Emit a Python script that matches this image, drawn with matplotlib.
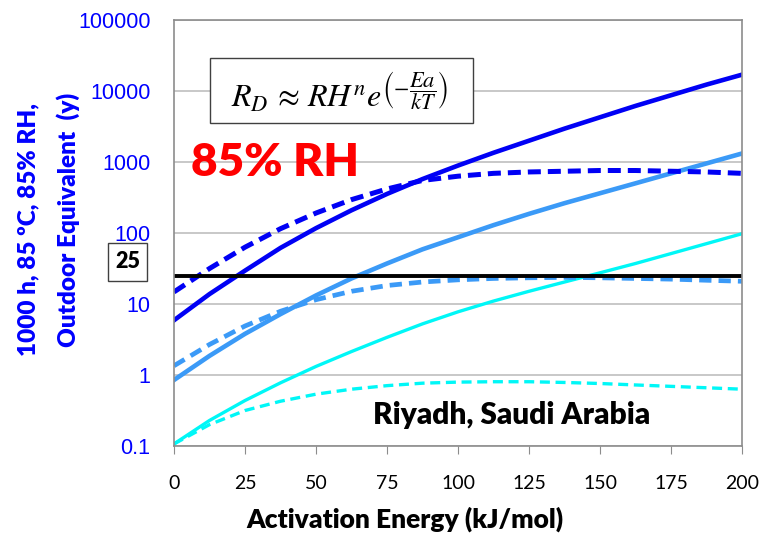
import matplotlib

matplotlib.use("Agg")
import matplotlib.pyplot as plt
from matplotlib.patches import Rectangle
from matplotlib.ticker import FixedLocator, NullLocator


# Activation energy (kJ/mol)
ea = [0, 12.5, 25, 37.5, 50, 62.5, 75, 87.5, 100,
      112.5, 125, 137.5, 150, 162.5, 175, 187.5, 200]

# Outdoor equivalent years
dark_solid = [5.9, 13.8, 29.5, 61.7, 117, 209, 355, 575, 891,
              1349, 1995, 2951, 4266, 6166, 8710, 12303, 16982]
dark_dashed = [14.8, 31.6, 63.1, 115, 191, 295, 417, 550, 631,
               692, 724, 741, 759, 759, 741, 724, 692]
mid_solid = [0.85, 1.86, 3.8, 7.2, 13.2, 22.9, 37.2, 58.9, 87.1,
             129, 186, 263, 363, 501, 692, 955, 1318]
mid_dashed = [1.35, 2.69, 4.9, 7.9, 11.5, 15.1, 18.2, 20.4, 21.9,
              22.9, 23.4, 23.7, 23.4, 22.9, 22.4, 21.6, 20.9]
cyan_solid = [0.107, 0.229, 0.437, 0.776, 1.32, 2.14, 3.39, 5.25, 7.76,
              11.0, 15.1, 20.4, 27.5, 37.2, 51.3, 70.8, 97.7]
cyan_dashed = [0.107, 0.20, 0.316, 0.427, 0.537, 0.631, 0.708, 0.767, 0.794,
               0.804, 0.804, 0.785, 0.759, 0.724, 0.692, 0.661, 0.631]

target_years = 25
x_ticks = [0, 25, 50, 75, 100, 125, 150, 175, 200]
y_ticks = [0.1, 1, 10, 100, 1000, 10000, 100000]
y_tick_labels = ["0.1", "1", "10", "100", "1000", "10000", "100000"]

DARK = "#0000F5"
MID = "#3B9AF7"
CYAN = "#00F7F7"
BOLD_FONT = ["Lato", "DejaVu Sans"]
W, H = 763, 533

fig = plt.figure(figsize=(7.63, 5.33), dpi=100)
ax = fig.add_axes([174 / W, 1 - 446 / H, 568 / W, 426 / H])
ax.set_yscale("log")
ax.set_xlim(0, 200)
ax.set_ylim(0.1, 100000)

# grid lines only on the decades
ax.yaxis.set_major_locator(FixedLocator(y_ticks))
ax.yaxis.set_minor_locator(NullLocator())
ax.grid(axis="y", color="#BFBFBF", linewidth=1.2)
ax.set_axisbelow(True)

ax.plot(ea, cyan_solid, color=CYAN, lw=2.4)
ax.plot(ea, cyan_dashed, color=CYAN, lw=2.4, dashes=(3.0, 1.7))
ax.plot(ea, mid_solid, color=MID, lw=3.3)
ax.plot(ea, mid_dashed, color=MID, lw=3.4, dashes=(2.6, 1.5))
ax.plot(ea, dark_solid, color=DARK, lw=3.3)
ax.plot(ea, dark_dashed, color=DARK, lw=3.6, dashes=(2.6, 1.4))
ax.axhline(target_years, color="black", lw=2.8)

for side in ["left", "right", "top", "bottom"]:
    ax.spines[side].set_color("#8C8C8C")
    ax.spines[side].set_linewidth(1.2)

ax.set_xticks(x_ticks)
ax.set_xticklabels([str(v) for v in x_ticks], fontsize=14, family=BOLD_FONT)
ax.tick_params(axis="x", direction="out", length=6, color="#8C8C8C", pad=15)
ax.set_yticklabels(y_tick_labels, fontsize=15.5, color="#0000FF", family="Liberation Sans")
ax.tick_params(axis="y", length=0, pad=17)

ax.set_xlabel("Activation Energy (kJ/mol)", fontsize=19, fontweight="heavy",
              family=BOLD_FONT, labelpad=10, x=(405 - 174) / 568)
fig.text(28 / W, 1 - 230 / H, "1000 h, 85 \u00baC, 85% RH,", rotation=90, fontsize=17.5,
         fontweight="heavy", color="#0000FF", family=BOLD_FONT, ha="center", va="center")
fig.text(68 / W, 1 - 220 / H, "Outdoor Equivalent  (y)", rotation=90, fontsize=17.5,
         fontweight="heavy", color="#0000FF", family=BOLD_FONT, ha="center", va="center")

# boxed target value next to the axis
fig.patches.append(Rectangle((108 / W, 1 - 281 / H), 39 / W, 38 / H, transform=fig.transFigure,
                             fc="white", ec="#404040", lw=1))
fig.text(127.5 / W, 1 - 262 / H, "25", fontsize=15.5, fontweight="heavy", family=BOLD_FONT,
         ha="center", va="center")

# equation box
plt.rcParams["mathtext.fontset"] = "stix"
fig.patches.append(Rectangle((210 / W, 1 - 123 / H), 263 / W, 65 / H, transform=fig.transFigure,
                             fc="white", ec="#404040", lw=1, zorder=3))
fig.text(340 / W, 1 - 93 / H,
         r"$R_D\,\approx\,RH^n e^{\left(-\dfrac{Ea}{kT}\right)}$",
         fontsize=23, ha="center", va="center", zorder=4)

ax.text(275 / W, 1 - 162 / H, "85% RH", transform=fig.transFigure, color="#FF0000",
        fontsize=33, fontweight="heavy", family=BOLD_FONT, ha="center", va="center")
ax.text(512 / W, 1 - 415 / H, "Riyadh, Saudi Arabia", transform=fig.transFigure,
        fontsize=21.5, fontweight="heavy", family=BOLD_FONT, ha="center", va="center")

fig.savefig("out.png", dpi=100)
